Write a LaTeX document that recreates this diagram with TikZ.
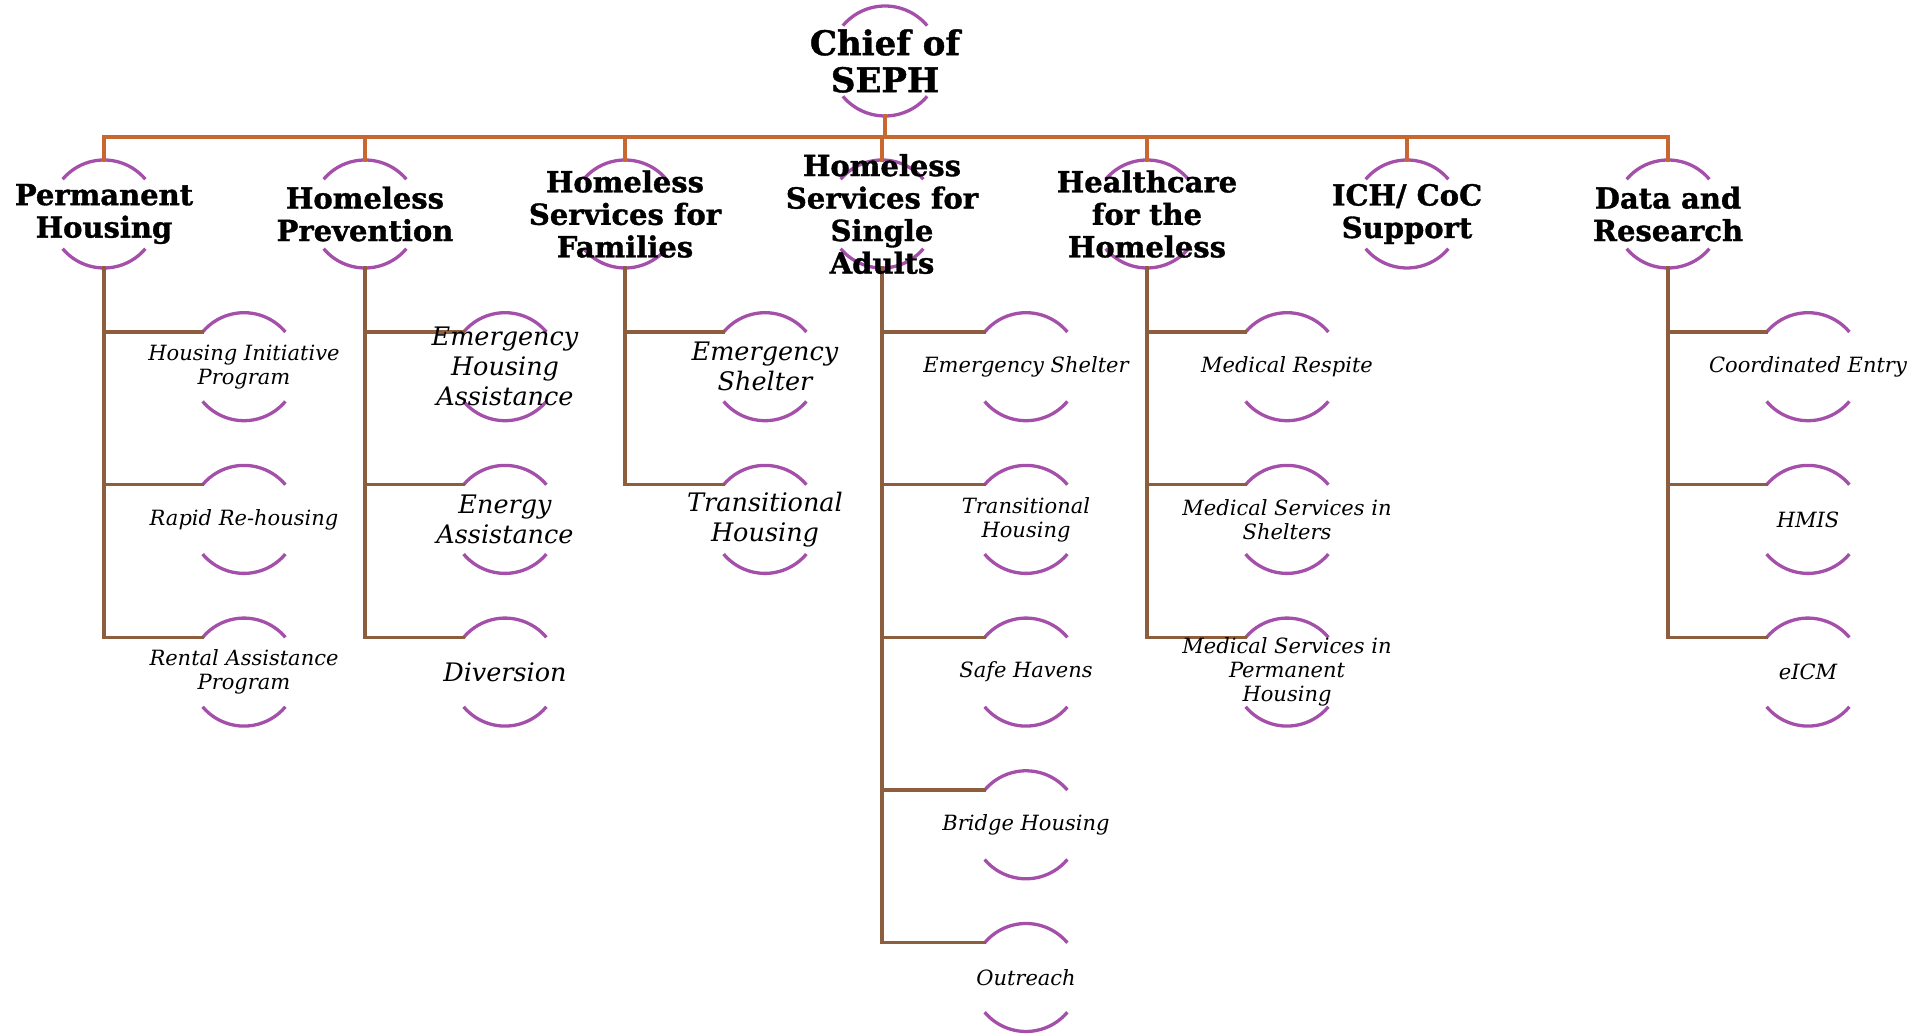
\documentclass[tikz,border=0pt]{standalone}
\usepackage{fontspec}
\setmainfont{DejaVu Serif}[BoldFeatures={FakeBold=1.2}]
\usetikzlibrary{backgrounds}
\definecolor{ringpurple}{RGB}{164,80,170}
\definecolor{trunkorange}{RGB}{200,104,48}
\definecolor{branchbrown}{RGB}{140,94,62}

\begin{document}
\begin{tikzpicture}[x=1pt, y=1pt, node distance=152.7pt,
        top/.style={
            align=center,
            inner sep=0pt,
            font=\fontsize{34}{37}\selectfont\bfseries},
        head/.style={
            align=center,
            inner sep=0pt,
            font=\fontsize{29}{32.5}\selectfont\bfseries},
        leaf/.style={
            align=center,
            inner sep=0pt,
            font=\fontsize{21}{24}\selectfont\itshape},
        bigleaf/.style={
            leaf,
            font=\fontsize{25.5}{30}\selectfont\itshape},
        ring/.style={
            draw=ringpurple,
            line width=3.3pt},
        trunk/.style={
            draw=trunkorange,
            line width=3.3pt,
            line cap=rect},
        branch/.style={
            draw=branchbrown,
            line width=3.3pt,
            line cap=rect}
        ]

        \useasboundingbox (0,0) rectangle (1932,1035);

        \node (chief) [top] at (885,974) {Chief of\\SEPH};

        \node (perm) [head] at (104,821) {Permanent\\Housing};
        \node (prev) [head] at (365,821) {Homeless\\Prevention};
        \node (fam) [head] at (625,821) {Homeless\\Services for\\Families};
        \node (single) [head] at (882,821) {Homeless\\Services for\\Single\\Adults};
        \node (health) [head] at (1147,821) {Healthcare\\for the\\Homeless};
        \node (ich) [head] at (1407,821) {ICH/ CoC\\Support};
        \node (data) [head] at (1668,821) {Data and\\Research};

        \node (hip) [leaf, below of=perm, xshift=140pt] {Housing Initiative\\Program};
        \node (rrh) [leaf, below of=hip] {Rapid Re-housing};
        \node (rap) [leaf, below of=rrh] {Rental Assistance\\Program};

        \node (eha) [bigleaf, below of=prev, xshift=140pt] {Emergency\\Housing\\Assistance};
        \node (energy) [bigleaf, below of=eha] {Energy\\Assistance};
        \node (div) [bigleaf, below of=energy] {Diversion};

        \node (famshelter) [bigleaf, below of=fam, xshift=140pt] {Emergency\\Shelter};
        \node (famtrans) [bigleaf, below of=famshelter] {Transitional\\Housing};

        \node (sshelter) [leaf, below of=single, xshift=144pt] {Emergency Shelter};
        \node (strans) [leaf, below of=sshelter] {Transitional\\Housing};
        \node (safe) [leaf, below of=strans] {Safe Havens};
        \node (bridge) [leaf, below of=safe] {Bridge Housing};
        \node (outreach) [leaf, below of=bridge] {Outreach};

        \node (respite) [leaf, below of=health, xshift=140pt] {Medical Respite};
        \node (medshelter) [leaf, below of=respite] {Medical Services in\\Shelters};
        \node (medperm) [leaf, below of=medshelter] {Medical Services in\\Permanent\\Housing};

        \node (entry) [leaf, below of=data, xshift=140pt] {Coordinated Entry};
        \node (hmis) [leaf, below of=entry] {HMIS};
        \node (eicm) [leaf, below of=hmis] {eICM};

        \begin{scope}[on background layer]
        % open rings round every name
        \draw[ring] (chief.center) ++(40:55pt) arc (40:140:55pt)
                    (chief.center) ++(220:55pt) arc (220:320:55pt);
        \foreach \n in {perm,prev,fam,single,health,ich,data,
                        hip,rrh,rap,eha,energy,div,famshelter,famtrans,
                        sshelter,strans,safe,bridge,outreach,
                        respite,medshelter,medperm,entry,hmis,eicm}
            \draw[ring] (\n.center) ++(40:54pt) arc (40:140:54pt)
                        (\n.center) ++(220:54pt) arc (220:320:54pt);

        % chief to the divisions
        \draw[trunk] (chief.center) ++(0,-55) -- ++(0,-21);
        \draw[trunk] ([yshift=77pt]perm.center) -- ([yshift=77pt]data.center);
        \foreach \n in {perm,prev,fam,single,health,ich,data}
            \draw[trunk] (\n.center) ++(0,54) -- ++(0,23);

        % divisions to programs
        \draw[branch] (perm.center) ++(0,-54) |- ([shift={(140:54pt)}]hip.center);
        \draw[branch] (perm.center) ++(0,-54) |- ([shift={(140:54pt)}]rrh.center);
        \draw[branch] (perm.center) ++(0,-54) |- ([shift={(140:54pt)}]rap.center);

        \draw[branch] (prev.center) ++(0,-54) |- ([shift={(140:54pt)}]eha.center);
        \draw[branch] (prev.center) ++(0,-54) |- ([shift={(140:54pt)}]energy.center);
        \draw[branch] (prev.center) ++(0,-54) |- ([shift={(140:54pt)}]div.center);

        \draw[branch] (fam.center) ++(0,-54) |- ([shift={(140:54pt)}]famshelter.center);
        \draw[branch] (fam.center) ++(0,-54) |- ([shift={(140:54pt)}]famtrans.center);

        \draw[branch] (single.center) ++(0,-54) |- ([shift={(140:54pt)}]sshelter.center);
        \draw[branch] (single.center) ++(0,-54) |- ([shift={(140:54pt)}]strans.center);
        \draw[branch] (single.center) ++(0,-54) |- ([shift={(140:54pt)}]safe.center);
        \draw[branch] (single.center) ++(0,-54) |- ([shift={(140:54pt)}]bridge.center);
        \draw[branch] (single.center) ++(0,-54) |- ([shift={(140:54pt)}]outreach.center);

        \draw[branch] (health.center) ++(0,-54) |- ([shift={(140:54pt)}]respite.center);
        \draw[branch] (health.center) ++(0,-54) |- ([shift={(140:54pt)}]medshelter.center);
        \draw[branch] (health.center) ++(0,-54) |- ([shift={(140:54pt)}]medperm.center);

        \draw[branch] (data.center) ++(0,-54) |- ([shift={(140:54pt)}]entry.center);
        \draw[branch] (data.center) ++(0,-54) |- ([shift={(140:54pt)}]hmis.center);
        \draw[branch] (data.center) ++(0,-54) |- ([shift={(140:54pt)}]eicm.center);
        \end{scope}

\end{tikzpicture}
\end{document}
